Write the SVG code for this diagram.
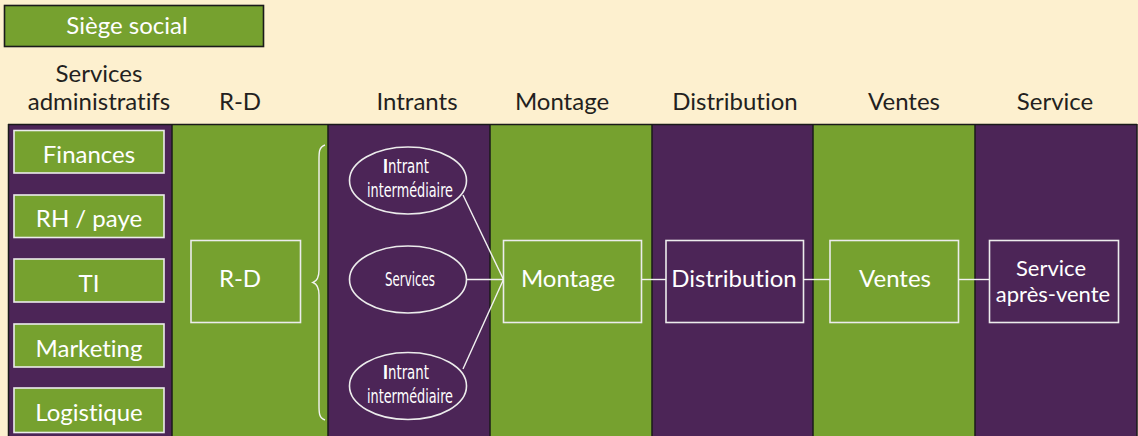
<svg xmlns="http://www.w3.org/2000/svg" width="1138" height="436" viewBox="0 0 1138 436">
  <style>
    .bg { fill: #FDF0CF; }
    .green { fill: #76A12F; }
    .purple { fill: #4C2557; }
    .sep { stroke: #1A1A1A; stroke-width: 1.5; }
    .box { stroke: #ECECEC; stroke-width: 1.6; }
    text { font-variant-ligatures: none; }
    .head { font-family: Lato, "Open Sans", sans-serif; font-size: 24px; fill: #231F20; text-anchor: middle; }
    .lbl { font-family: Lato, "Open Sans", sans-serif; font-size: 24px; fill: #FFFFFF; text-anchor: middle; }
    .small { font-size: 22px; }
    .ell { font-family: "DejaVu Sans Condensed", "DejaVu Sans", sans-serif; font-size: 19px; fill: #FFFFFF; text-anchor: middle; }
    .link { stroke: #F2F2F2; stroke-width: 1.4; fill: none; }
  </style>

  <rect class="bg" x="0" y="0" width="1138" height="436"/>

  <!-- head office banner -->
  <g id="siege">
    <rect class="green" x="4.5" y="5.5" width="259" height="41" stroke="#1A1A1A" stroke-width="1.6"/>
    <text class="lbl" x="127" y="34">Siège social</text>
  </g>

  <!-- column headings -->
  <g id="headings">
    <text class="head" x="99" y="82">Services</text>
    <text class="head" x="99" y="110">administratifs</text>
    <text class="head" x="240" y="110">R-D</text>
    <text class="head" x="417" y="110">Intrants</text>
    <text class="head" x="562" y="110">Montage</text>
    <text class="head" x="735" y="110">Distribution</text>
    <text class="head" x="904" y="110">Ventes</text>
    <text class="head" x="1055" y="110">Service</text>
  </g>

  <!-- column bands -->
  <g id="bands">
    <rect class="purple" x="8" y="124" width="164" height="312"/>
    <rect class="green" x="172" y="124" width="156" height="312"/>
    <rect class="purple" x="328" y="124" width="162" height="312"/>
    <rect class="green" x="490" y="124" width="162" height="312"/>
    <rect class="purple" x="652" y="124" width="161" height="312"/>
    <rect class="green" x="813" y="124" width="162" height="312"/>
    <rect class="purple" x="975" y="124" width="162" height="312"/>
    <line class="sep" x1="8" y1="124.5" x2="1137" y2="124.5"/>
    <line class="sep" x1="8.5" y1="124" x2="8.5" y2="436"/>
    <line class="sep" x1="172" y1="124" x2="172" y2="436"/>
    <line class="sep" x1="328" y1="124" x2="328" y2="436"/>
    <line class="sep" x1="490" y1="124" x2="490" y2="436"/>
    <line class="sep" x1="652" y1="124" x2="652" y2="436"/>
    <line class="sep" x1="813" y1="124" x2="813" y2="436"/>
    <line class="sep" x1="975" y1="124" x2="975" y2="436"/>
    <line class="sep" x1="1137" y1="124" x2="1137" y2="436"/>
  </g>

  <!-- administrative services -->
  <g id="finances">
    <rect class="green box" x="14" y="130.5" width="150" height="42.5"/>
    <text class="lbl" x="89" y="163">Finances</text>
  </g>
  <g id="rh-paye">
    <rect class="green box" x="14" y="195" width="150" height="42.5"/>
    <text class="lbl" x="89" y="227">RH / paye</text>
  </g>
  <g id="ti">
    <rect class="green box" x="14" y="259" width="150" height="43"/>
    <text class="lbl" x="89" y="292">TI</text>
  </g>
  <g id="marketing">
    <rect class="green box" x="14" y="324" width="150" height="43"/>
    <text class="lbl" x="89" y="357">Marketing</text>
  </g>
  <g id="logistique">
    <rect class="green box" x="14" y="388" width="150" height="44.5"/>
    <text class="lbl" x="89" y="421">Logistique</text>
  </g>

  <!-- research and development -->
  <g id="rd">
    <rect class="green box" x="191" y="240.5" width="109.5" height="82"/>
    <text class="lbl" x="240" y="287">R-D</text>
  </g>

  <g id="brace">
    <path class="link" d="M325 145 C319 147 319 152 319 160 L319 270 C319 278 317 281 313 282.5 C317 284 319 287 319 295 L319 405 C319 413 319 418 325 420"/>
  </g>

  <!-- inputs -->
  <g id="intrant-1">
    <ellipse class="purple box" cx="408" cy="180.5" rx="58.5" ry="33.5"/>
    <text class="ell" x="406" y="173" textLength="46" lengthAdjust="spacingAndGlyphs"><tspan font-weight="bold">I</tspan>ntrant</text>
    <text class="ell" x="410" y="197" textLength="86" lengthAdjust="spacingAndGlyphs">intermédiaire</text>
  </g>
  <g id="services">
    <ellipse class="purple box" cx="408" cy="279.5" rx="58.5" ry="33.5"/>
    <text class="ell" x="410" y="286" textLength="50" lengthAdjust="spacingAndGlyphs">Services</text>
  </g>
  <g id="intrant-2">
    <ellipse class="purple box" cx="408" cy="386" rx="58.5" ry="33.5"/>
    <text class="ell" x="406" y="379" textLength="46" lengthAdjust="spacingAndGlyphs"><tspan font-weight="bold">I</tspan>ntrant</text>
    <text class="ell" x="410" y="403" textLength="86" lengthAdjust="spacingAndGlyphs">intermédiaire</text>
  </g>

  <!-- value chain -->
  <g id="montage">
    <rect class="green box" x="503.5" y="240.5" width="138" height="82"/>
    <text class="lbl" x="568" y="287">Montage</text>
  </g>
  <g id="distribution">
    <rect class="purple box" x="666" y="240.5" width="137.5" height="82"/>
    <text class="lbl" x="734" y="287">Distribution</text>
  </g>
  <g id="ventes">
    <rect class="green box" x="830" y="240.5" width="128.5" height="82"/>
    <text class="lbl" x="895" y="287">Ventes</text>
  </g>
  <g id="service-apres-vente">
    <rect class="purple box" x="989.5" y="240.5" width="129" height="82"/>
    <text class="lbl small" x="1051" y="276">Service</text>
    <text class="lbl small" x="1053" y="302">après-vente</text>
  </g>

  <!-- connectors -->
  <g id="connectors">
    <line class="link" x1="463" y1="195" x2="503.5" y2="279.5"/>
    <line class="link" x1="466.5" y1="279.5" x2="503.5" y2="279.5"/>
    <line class="link" x1="463" y1="369" x2="503.5" y2="279.5"/>
    <line class="link" x1="641.5" y1="279.5" x2="666" y2="279.5"/>
    <line class="link" x1="803.5" y1="279.5" x2="830" y2="279.5"/>
    <line class="link" x1="958.5" y1="279.5" x2="989.5" y2="279.5"/>
  </g>
</svg>
